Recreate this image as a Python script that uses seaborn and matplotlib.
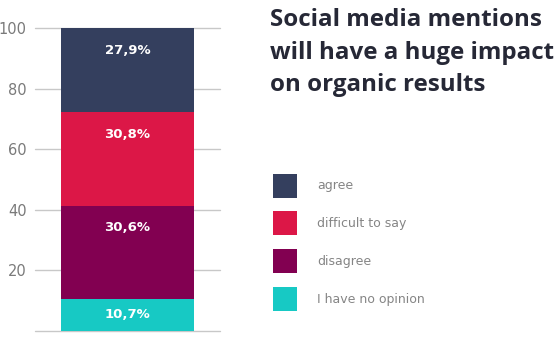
import numpy as np
import pandas as pd
import seaborn as sns
import matplotlib.pyplot as plt
from matplotlib.patches import Patch

categories = ["I have no opinion", "disagree", "difficult to say", "agree"]
values = [10.7, 30.6, 30.8, 27.9]
colors = ["#17C9C4", "#820051", "#DC1747", "#343F5E"]
value_labels = ["10,7%", "30,6%", "30,8%", "27,9%"]
yticks = [20, 40, 60, 80, 100]
title = "Social media mentions\nwill have a huge impact\non organic results"

sns.set_style("white")
plt.rcParams['font.family'] = ['DejaVu Sans']

fig = plt.figure(figsize=(5.59, 3.37), dpi=100)
ax = fig.add_axes([0.0626, 0.018, 0.331, 0.899])

tops = np.cumsum(values)
df = pd.DataFrame({"cat": categories, "top": tops, "val": values})
# draw cumulative bars from tallest to shortest so each segment shows
for i in range(len(categories) - 1, -1, -1):
    sns.barplot(x=["s"], y=[df["top"][i]], color=colors[i], width=0.72,
                saturation=1, ax=ax, zorder=3, linewidth=0)

ax.set_ylim(0, 100)
ax.set_xlim(-0.5, 0.5)
ax.set_yticks(yticks)
ax.set_yticklabels([str(t) for t in yticks], color="#7a7a7a", fontsize=10.5)
ax.set_xticks([])
ax.set_xlabel("")
ax.set_ylabel("")
ax.tick_params(axis="y", length=0, pad=6)
for y in [0] + yticks:
    ax.axhline(y, color="#c8c8c8", lw=1, zorder=1, clip_on=False)
for s in ax.spines.values():
    s.set_visible(False)

for i, (t, v) in enumerate(zip(tops, values)):
    bottom = t - v
    y = max(t - 7.3, bottom + v / 2)
    ax.text(0, y, value_labels[i], ha="center", va="center", color="white",
            fontsize=9.5, fontweight="bold", zorder=5)

fig.text(0.483, 0.975, title, ha="left", va="top", fontsize=17.4,
         fontweight="bold", color="#262836", linespacing=1.45,
         family="Open Sans")

handles = [Patch(facecolor=c, edgecolor="none") for c in colors[::-1]]
fig.legend(handles, categories[::-1], loc="upper left",
           bbox_to_anchor=(0.489, 0.485), frameon=False, fontsize=9,
           handlelength=1.92, handleheight=2.58, handletextpad=1.6,
           labelspacing=1.1, labelcolor="#858585", borderaxespad=0,
           borderpad=0)

fig.savefig("out.png", dpi=100)
